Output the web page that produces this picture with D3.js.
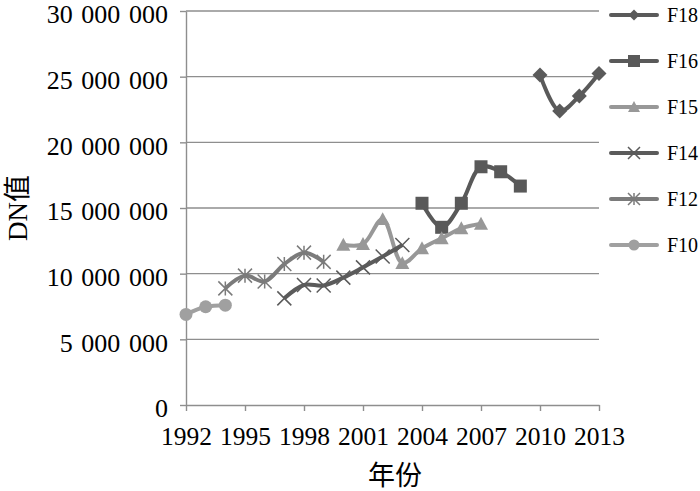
<!DOCTYPE html>
<html><head><meta charset="utf-8">
<script src="https://cdn.jsdelivr.net/npm/d3@7"></script>
<style>
html,body{margin:0;padding:0;background:#fff;}
svg{display:block;}
text{font-family:"Liberation Serif","Times New Roman","Noto Sans CJK SC",serif;fill:#000;}
</style></head>
<body>
<svg id="chart" width="700" height="491"></svg>
<script>
// ---- data ----
const seriesNames = ["F18","F16","F15","F14","F12","F10"];
const yearsF18 = [2010,2011,2012,2013];
const valuesF18 = [25130000,22380000,23530000,25250000];
const yearsF16 = [2004,2005,2006,2007,2008,2009];
const valuesF16 = [15360000,13530000,15360000,18140000,17760000,16670000];
const yearsF15 = [2000,2001,2002,2003,2004,2005,2006,2007];
const valuesF15 = [12200000,12250000,14150000,10800000,11930000,12700000,13450000,13800000];
const yearsF14 = [1997,1998,1999,2000,2001,2002,2003];
const valuesF14 = [8120000,9140000,9100000,9700000,10480000,11300000,12180000];
const yearsF12 = [1994,1995,1996,1997,1998,1999];
const valuesF12 = [8880000,9850000,9400000,10730000,11600000,10900000];
const yearsF10 = [1992,1993,1994];
const valuesF10 = [6900000,7480000,7600000];
const xTicks = [1992,1995,1998,2001,2004,2007,2010,2013];
const yTicks = [0,5000000,10000000,15000000,20000000,25000000,30000000];
const xTitle = "年份";
const yTitle = "DN值";

// ---- styles ----
const styles = {
  F18:{color:"#5a5a5a", marker:"diamond"},
  F16:{color:"#595959", marker:"square"},
  F15:{color:"#989898", marker:"triangle"},
  F14:{color:"#5b5b5b", marker:"x"},
  F12:{color:"#7b7b7b", marker:"star"},
  F10:{color:"#a0a0a0", marker:"circle"}
};
const seriesData = {
  F18: yearsF18.map((y,i)=>({x:y,v:valuesF18[i]})),
  F16: yearsF16.map((y,i)=>({x:y,v:valuesF16[i]})),
  F15: yearsF15.map((y,i)=>({x:y,v:valuesF15[i]})),
  F14: yearsF14.map((y,i)=>({x:y,v:valuesF14[i]})),
  F12: yearsF12.map((y,i)=>({x:y,v:valuesF12[i]})),
  F10: yearsF10.map((y,i)=>({x:y,v:valuesF10[i]}))
};

const svg = d3.select("#chart");
const x = d3.scaleLinear().domain([1992,2013]).range([186,599]);
const y = d3.scaleLinear().domain([0,30000000]).range([405,11]);

// gridlines
svg.append("g").selectAll("line").data(yTicks.filter(d=>d>0)).join("line")
  .attr("x1",186).attr("x2",599)
  .attr("y1",d=>y(d)).attr("y2",d=>y(d))
  .attr("stroke","#8e8e8e").attr("stroke-width",1.4);

// y axis
const fmt = d => d3.format(",")(d).replace(/,/g,"\u2004");
const yAxis = svg.append("g").attr("transform","translate(186,0)")
  .call(d3.axisLeft(y).tickValues(yTicks).tickFormat(fmt).tickSize(6).tickPadding(12).tickSizeOuter(0));
yAxis.select(".domain").attr("stroke","#8e8e8e").attr("stroke-width",1.4);
yAxis.selectAll(".tick line").attr("stroke","#8e8e8e").attr("stroke-width",1.4);
yAxis.selectAll(".tick text").attr("font-size",26).attr("dy","0.45em")
  .style("font-family",'"Liberation Serif","Times New Roman",serif').attr("fill","#000");

// x axis
const xAxis = svg.append("g").attr("transform","translate(0,405)")
  .call(d3.axisBottom(x).tickValues(xTicks).tickFormat(d3.format("d")).tickSize(6).tickSizeOuter(0));
xAxis.select(".domain").attr("stroke","#8e8e8e").attr("stroke-width",1.4);
xAxis.selectAll(".tick line").attr("stroke","#8e8e8e").attr("stroke-width",1.4);
xAxis.selectAll(".tick text").attr("font-size",25.5).attr("y",40).attr("dy","0")
  .style("font-family",'"Liberation Serif","Times New Roman",serif').attr("fill","#000");

// titles
svg.append("text").attr("x",395).attr("y",485).attr("text-anchor","middle")
  .attr("font-size",27).text(xTitle);
svg.append("text").attr("transform","translate(27,208) rotate(-90)").attr("text-anchor","middle")
  .attr("font-size",27).text(yTitle);

// marker drawing
function drawMarker(g, type, cx, cy, s, color){
  const h = s/2;
  if(type==="diamond"){
    g.append("path").attr("d",`M${cx},${cy-h}L${cx+h},${cy}L${cx},${cy+h}L${cx-h},${cy}Z`).attr("fill",color);
  } else if(type==="square"){
    g.append("rect").attr("x",cx-h).attr("y",cy-h).attr("width",s).attr("height",s).attr("fill",color);
  } else if(type==="triangle"){
    g.append("path").attr("d",`M${cx},${cy-h}L${cx+h},${cy+h*0.85}L${cx-h},${cy+h*0.85}Z`).attr("fill",color);
  } else if(type==="circle"){
    g.append("circle").attr("cx",cx).attr("cy",cy).attr("r",h).attr("fill",color);
  } else if(type==="x"){
    g.append("path").attr("d",`M${cx-h},${cy-h}L${cx+h},${cy+h}M${cx+h},${cy-h}L${cx-h},${cy+h}`)
      .attr("stroke",color).attr("stroke-width",1.5).attr("fill","none");
  } else if(type==="star"){
    g.append("path").attr("d",`M${cx-h},${cy-h}L${cx+h},${cy+h}M${cx+h},${cy-h}L${cx-h},${cy+h}M${cx},${cy-h}L${cx},${cy+h}`)
      .attr("stroke",color).attr("stroke-width",1.5).attr("fill","none");
  }
}

const line = d3.line().x(d=>x(d.x)).y(d=>y(d.v)).curve(d3.curveCatmullRom.alpha(0.5));

seriesNames.forEach(name=>{
  const st = styles[name];
  const g = svg.append("g");
  g.append("path").datum(seriesData[name]).attr("d",line)
    .attr("fill","none").attr("stroke",st.color).attr("stroke-width",4).attr("stroke-linejoin","round");
  const msize = {diamond:15,square:13,triangle:14,circle:13,x:14,star:14}[st.marker];
  seriesData[name].forEach(d=>drawMarker(g, st.marker, x(d.x), y(d.v), msize, st.color));
});

// legend
const legendY = [15,61,107,153,199,245];
seriesNames.forEach((name,i)=>{
  const st = styles[name];
  const g = svg.append("g");
  const ly = legendY[i];
  g.append("line").attr("x1",611).attr("x2",657).attr("y1",ly).attr("y2",ly)
    .attr("stroke",st.color).attr("stroke-width",4).attr("stroke-linecap","round");
  const ls = {diamond:11,square:12,triangle:12,circle:11,x:12,star:12}[st.marker];
  drawMarker(g, st.marker, 634, ly, ls, st.color);
  g.append("text").attr("x",667).attr("y",ly).attr("dy","0.35em").attr("font-size",20).text(name);
});
</script>
</body></html>
